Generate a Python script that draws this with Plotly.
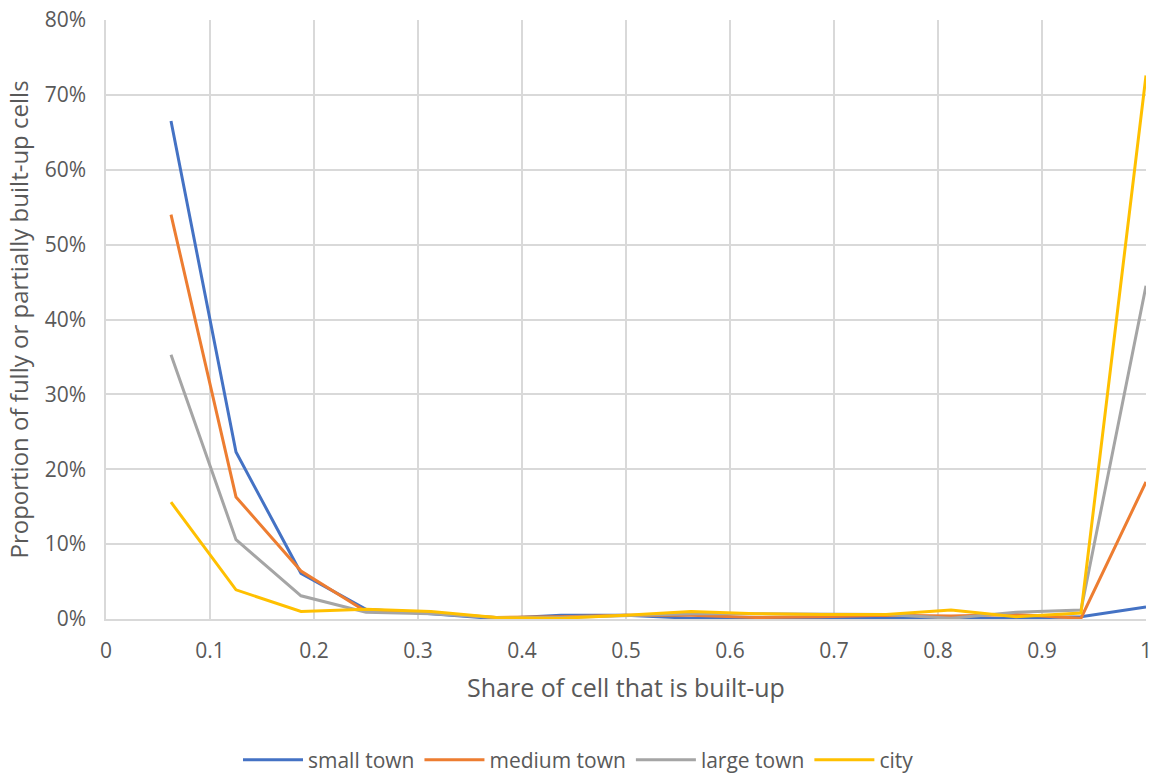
import plotly.graph_objects as go

# Share of cell built-up (bins of 1/16)
share = [i / 16 for i in range(1, 17)]

small_town = [66.5, 22.3, 6.1, 1.3, 0.7, 0.05, 0.5, 0.5, 0.1, 0.1, 0.05, 0.1, 0.05, 0.1, 0.3, 1.6]
medium_town = [54.0, 16.3, 6.4, 1.0, 0.8, 0.2, 0.3, 0.5, 0.5, 0.2, 0.3, 0.5, 0.4, 0.6, 0.1, 18.3]
large_town = [35.3, 10.6, 3.1, 0.9, 0.7, 0.2, 0.2, 0.5, 0.7, 0.7, 0.7, 0.6, 0.1, 0.9, 1.2, 44.5]
city = [15.6, 3.9, 1.0, 1.3, 1.0, 0.2, 0.1, 0.5, 1.0, 0.7, 0.6, 0.6, 1.2, 0.3, 0.8, 72.6]

series = [
    ("small town", small_town, "#4472C4"),
    ("medium town", medium_town, "#ED7D31"),
    ("large town", large_town, "#A5A5A5"),
    ("city", city, "#FFC000"),
]

x_ticks = [i / 10 for i in range(11)]
x_tick_text = ["0"] + [f"{v:g}" for v in x_ticks[1:-1]] + ["1"]
y_ticks = list(range(0, 81, 10))
y_tick_text = [f"{v}%" for v in y_ticks]

fig = go.Figure()
for name, vals, color in series:
    fig.add_trace(go.Scatter(
        x=share, y=vals, name=name, mode="lines",
        line=dict(color=color, width=3),
    ))

font = "Open Sans, Liberation Sans, sans-serif"
text_color = "#595959"
grid = "#D9D9D9"
fig.update_layout(
    width=1157, height=774,
    margin=dict(l=106, r=11, t=20, b=155, autoexpand=False),
    paper_bgcolor="white", plot_bgcolor="white",
    font=dict(family=font, size=21, color=text_color),
    xaxis=dict(
        range=[0, 1], tickvals=x_ticks, ticktext=x_tick_text,
        showgrid=True, gridcolor=grid, gridwidth=1.5,
        zeroline=False, showline=True, linecolor=grid, linewidth=1.5,
        ticks="", ticklabelstandoff=12,
        tickfont=dict(size=21, color=text_color),
        title=dict(text="Share of cell that is built-up", standoff=17,
                   font=dict(size=25, color=text_color)),
    ),
    yaxis=dict(
        range=[0, 80], tickvals=y_ticks, ticktext=y_tick_text,
        showgrid=True, gridcolor=grid, gridwidth=1.5,
        zeroline=False, showline=True, linecolor=grid, linewidth=1.5,
        ticks="", ticklabelstandoff=14,
        tickfont=dict(size=21, color=text_color),
        title=dict(text="Proportion of fully or partially built-up cells",
                   standoff=9, font=dict(size=24, color=text_color)),
    ),
    legend=dict(
        orientation="h", xref="container", x=0.5, xanchor="center",
        yref="container", y=0.018, yanchor="middle",
        font=dict(size=21, color=text_color),
        itemwidth=60, traceorder="normal",
    ),
)

fig.write_html("out.html")
